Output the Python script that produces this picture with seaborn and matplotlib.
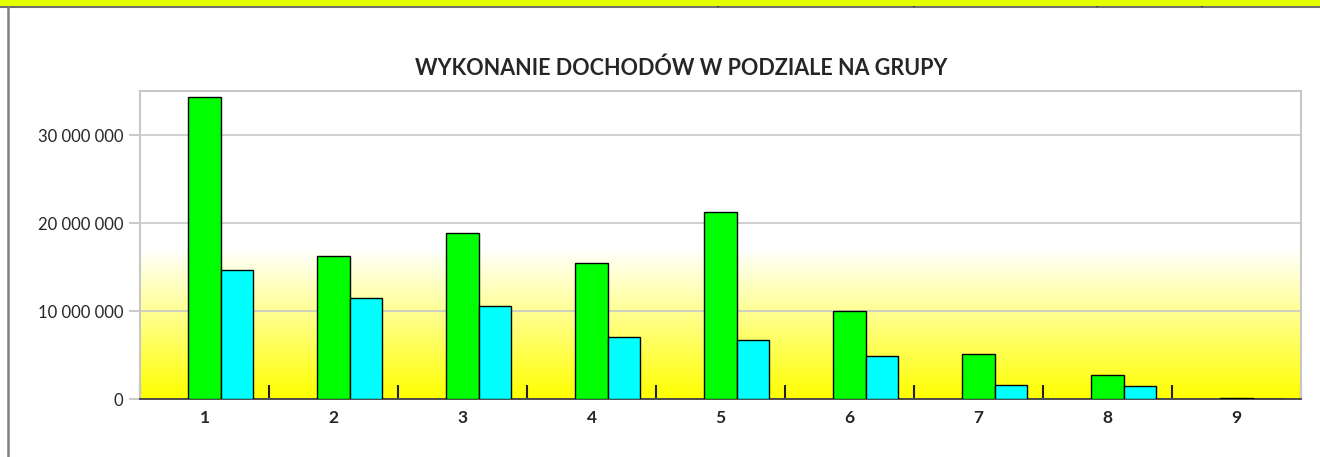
import numpy as np
import pandas as pd
import matplotlib
matplotlib.use("Agg")
import matplotlib.pyplot as plt
from matplotlib.ticker import FuncFormatter, FixedLocator
from matplotlib.lines import Line2D
from matplotlib.patches import Rectangle
import seaborn as sns

# === Datos ===
grupy = ["1", "2", "3", "4", "5", "6", "7", "8", "9"]
# pierwsza seria w arkuszu jest pusta (zajmuje miejsce, ale nie ma slupkow)
seria_0 = [np.nan] * 9
seria_a = [34300000, 16270000, 18900000, 15400000, 21200000, 10050000, 5130000, 2750000, 60000]
seria_b = [14700000, 11470000, 10530000, 7100000, 6650000, 4900000, 1550000, 1440000, 25000]
nazwy_serii = ["0", "A", "B"]
kolory = ["#FFFFFF", "#00FF00", "#00FFFF"]

df = pd.DataFrame({
    "Grupa": grupy * 3,
    "Seria": [n for n in nazwy_serii for _ in grupy],
    "Wartosc": seria_0 + seria_a + seria_b,
})

sns.set_style("white")
plt.rcParams["font.family"] = ["Lato", "DejaVu Sans"]

fig = plt.figure(figsize=(13.2, 4.57), dpi=100)
ax = fig.add_axes([140 / 1320, 1 - 399 / 457, (1301 - 140) / 1320, (399 - 91) / 457])

# fondo degradado (blanco -> amarillo) en la parte baja del area
img = np.ones((256, 1, 3))
img[:, 0, 2] = np.linspace(1, 0, 256)
ax.imshow(img, extent=(0, 1, 0, 0.49), transform=ax.transAxes, aspect="auto", zorder=0)

sns.barplot(data=df, x="Grupa", y="Wartosc", hue="Seria", hue_order=nazwy_serii,
            palette=kolory, saturation=1, width=0.75, edgecolor="black", linewidth=1,
            ax=ax, legend=False, zorder=3)

ax.set_xlim(-0.5, 8.5)
ax.set_ylim(0, 35000000)
ax.set_yticks([0, 10000000, 20000000, 30000000])
ax.yaxis.set_major_formatter(FuncFormatter(lambda v, p: f"{int(v):,}".replace(",", " ")))
ax.grid(axis="y", color="#C8C8C8", linewidth=1.2, zorder=1)
ax.set_axisbelow(True)
ax.set_xlabel("")
ax.set_ylabel("")

for s in ["left", "top", "right"]:
    ax.spines[s].set_color("#C8C8C8")
    ax.spines[s].set_linewidth(1.5)
ax.spines["bottom"].set_color("#404040")
ax.spines["bottom"].set_linewidth(1.3)

ax.tick_params(axis="y", left=True, length=8, color="#C0C0C0", width=1.2, labelsize=12, pad=4)
ax.tick_params(axis="x", which="major", length=0, labelsize=12.5, pad=8)
for t in ax.get_xticklabels():
    t.set_fontweight("bold")
ax.xaxis.set_minor_locator(FixedLocator(np.arange(-0.5, 9, 1)))
ax.tick_params(axis="x", which="minor", bottom=True, direction="in", length=10,
               width=1.5, color="#202020")

fig.text(681 / 1320, 1 - 68 / 457, "WYKONANIE DOCHODÓW W PODZIALE NA GRUPY",
         ha="center", va="center", fontsize=15.5, fontweight="bold")

# pasek arkusza u gory i ramka wykresu
fig.patches.append(Rectangle((0, 1 - 6 / 457), 1, 6 / 457, transform=fig.transFigure,
                             facecolor="#E6FF00", edgecolor="none", zorder=5))
fig.lines.append(Line2D([0, 1], [1 - 6.5 / 457] * 2, transform=fig.transFigure,
                        color="#707070", linewidth=1.5))
for xp in [718, 914, 1097, 1202]:
    fig.lines.append(Line2D([xp / 1320] * 2, [1 - 6 / 457, 1], transform=fig.transFigure,
                            color="black", linewidth=1.2))
fig.lines.append(Line2D([7.5 / 1320] * 2, [0, 1 - 6.5 / 457], transform=fig.transFigure,
                        color="#808080", linewidth=1.8))

fig.savefig("out.png", dpi=100)
